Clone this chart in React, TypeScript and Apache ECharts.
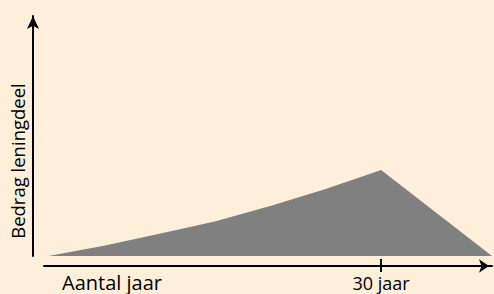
import React, { useEffect, useRef } from "react";
import * as echarts from "echarts";

// Years (x) and loan-part amount (relative, peak = 100)
const years = [0, 5, 10, 15, 20, 25, 30, 40];
const amounts = [0, 12, 26, 40, 58, 78, 100, 0];
const tickYears = [30];
const tickLabels = ["30 jaar"];
const xAxisName = "Aantal jaar";
const yAxisName = "Bedrag leningdeel";

const FONT = "'Open Sans', sans-serif";

export default function App() {
  const ref = useRef<HTMLDivElement>(null);
  useEffect(() => {
    const chart = echarts.init(ref.current!, null, { renderer: "svg" });
    chart.setOption({
      animation: false,
      backgroundColor: "#FEEFDB",
      grid: {
        left: 44,
        right: 2,
        top: 16,
        bottom: 38,
        containLabel: false,
        outerBoundsMode: "none",
      },
      xAxis: [
        {
          type: "value",
          min: -0.4,
          max: 40,
          offset: 10,
          name: xAxisName,
          nameLocation: "start",
          nameGap: -18,
          nameMoveOverlap: false,
          nameTextStyle: {
            fontFamily: FONT,
            fontSize: 20,
            lineHeight: 20,
            color: "#000",
            align: "left",
            verticalAlign: "top",
            padding: [6, 0, 0, 0],
          },
          axisLine: {
            show: true,
            onZero: false,
            symbol: ["none", "arrow"],
            symbolSize: [10, 10],
            symbolOffset: [0, -3],
            lineStyle: { color: "#000", width: 2 },
          },
          axisTick: {
            show: true,
            customValues: tickYears,
            length: 6,
            lineStyle: { color: "#000", width: 2 },
          },
          axisLabel: {
            show: true,
            customValues: tickYears,
            margin: 8,
            fontFamily: FONT,
            fontSize: 18,
            lineHeight: 18,
            color: "#000",
            formatter: (v: number) => {
              const i = tickYears.indexOf(v);
              return i >= 0 ? tickLabels[i] : "";
            },
          },
          splitLine: { show: false },
        },
        {
          type: "value",
          min: -0.4,
          max: 40,
          offset: 10,
          position: "bottom",
          axisLine: { show: false, onZero: false },
          axisTick: {
            show: true,
            inside: true,
            customValues: tickYears,
            length: 7,
            lineStyle: { color: "#000", width: 2 },
          },
          axisLabel: { show: false },
          splitLine: { show: false },
        },
      ],
      yAxis: {
        type: "value",
        min: 0,
        max: 279,
        offset: 11,
        name: yAxisName,
        nameLocation: "middle",
        nameGap: 6,
        nameMoveOverlap: false,
        nameTextStyle: {
          fontFamily: FONT,
          fontSize: 18.5,
          color: "#000",
          padding: [0, 50, 0, 0],
        },
        axisLine: {
          show: true,
          onZero: false,
          symbol: ["none", "arrow"],
          symbolSize: [9, 13],
          lineStyle: { color: "#000", width: 2 },
        },
        axisTick: { show: false },
        axisLabel: { show: false },
        splitLine: { show: false },
      },
      series: [
        {
          type: "line",
          xAxisIndex: 0,
          data: years.map((y, i) => [y, amounts[i]]),
          symbol: "none",
          lineStyle: { width: 0 },
          areaStyle: { color: "#808080", opacity: 1 },
          silent: true,
        },
      ],
    });
    return () => chart.dispose();
  }, []);
  return (
    <div
      ref={ref}
      style={{ position: "fixed", left: 0, top: 0, width: 494, height: 294 }}
    />
  );
}
